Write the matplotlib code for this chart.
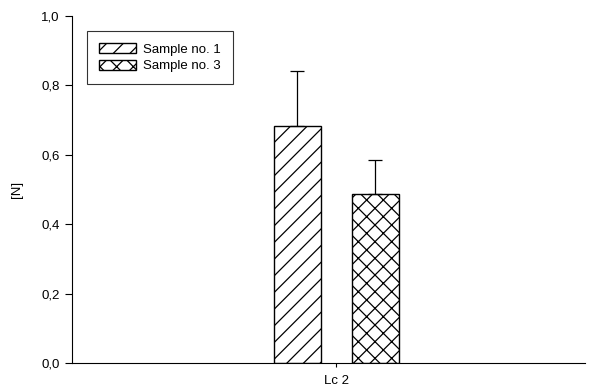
import matplotlib.pyplot as plt
from matplotlib.ticker import FuncFormatter

plt.rcParams['font.family'] = ['Liberation Sans', 'DejaVu Sans']
plt.rcParams['hatch.linewidth'] = 0.9

samples = ['Sample no. 1', 'Sample no. 3']
means = [0.683, 0.487]
errs = [0.158, 0.097]
hatches = ['//', 'xx']
offsets = [-0.83, 0.83]
group = 'Lc 2'

fig = plt.figure(figsize=(5.96, 3.92), dpi=100)
ax = fig.add_axes([0.1208, 0.074, 0.8607, 0.885])

for off, m, e, h, lab in zip(offsets, means, errs, hatches, samples):
    ax.bar(off, m, width=1.0, facecolor='white', edgecolor='black', hatch=h,
           linewidth=1.0, label=lab)
    ax.errorbar(off, m, yerr=[[0], [e]], fmt='none', ecolor='black',
                elinewidth=0.9, capsize=5, capthick=0.9)

ax.set_xlim(-5.62, 5.29)
ax.set_ylim(0, 1.0)
ax.set_xticks([0])
ax.set_xticklabels([group], fontsize=9.5)
ax.set_yticks([0, 0.2, 0.4, 0.6, 0.8, 1.0])
ax.yaxis.set_major_formatter(FuncFormatter(lambda v, p: f'{v:.1f}'.replace('.', ',')))
ax.tick_params(axis='y', labelsize=9.5, direction='out', length=5, width=0.8, pad=4)
ax.tick_params(axis='x', direction='out', length=3, width=0.8, pad=6)
ax.set_ylabel('[N]', fontsize=9.5, labelpad=13)
for s in ['top', 'right']:
    ax.spines[s].set_visible(False)
for s in ['left', 'bottom']:
    ax.spines[s].set_linewidth(0.8)

leg = ax.legend(loc='upper left', bbox_to_anchor=(0.029, 0.957), fontsize=9.5,
                frameon=True, fancybox=False, edgecolor='black',
                handlelength=2.8, handleheight=0.85, borderpad=0.9,
                labelspacing=0.3, handletextpad=0.55, borderaxespad=0)
leg.get_frame().set_linewidth(0.8)

fig.savefig('out.png', dpi=100)
